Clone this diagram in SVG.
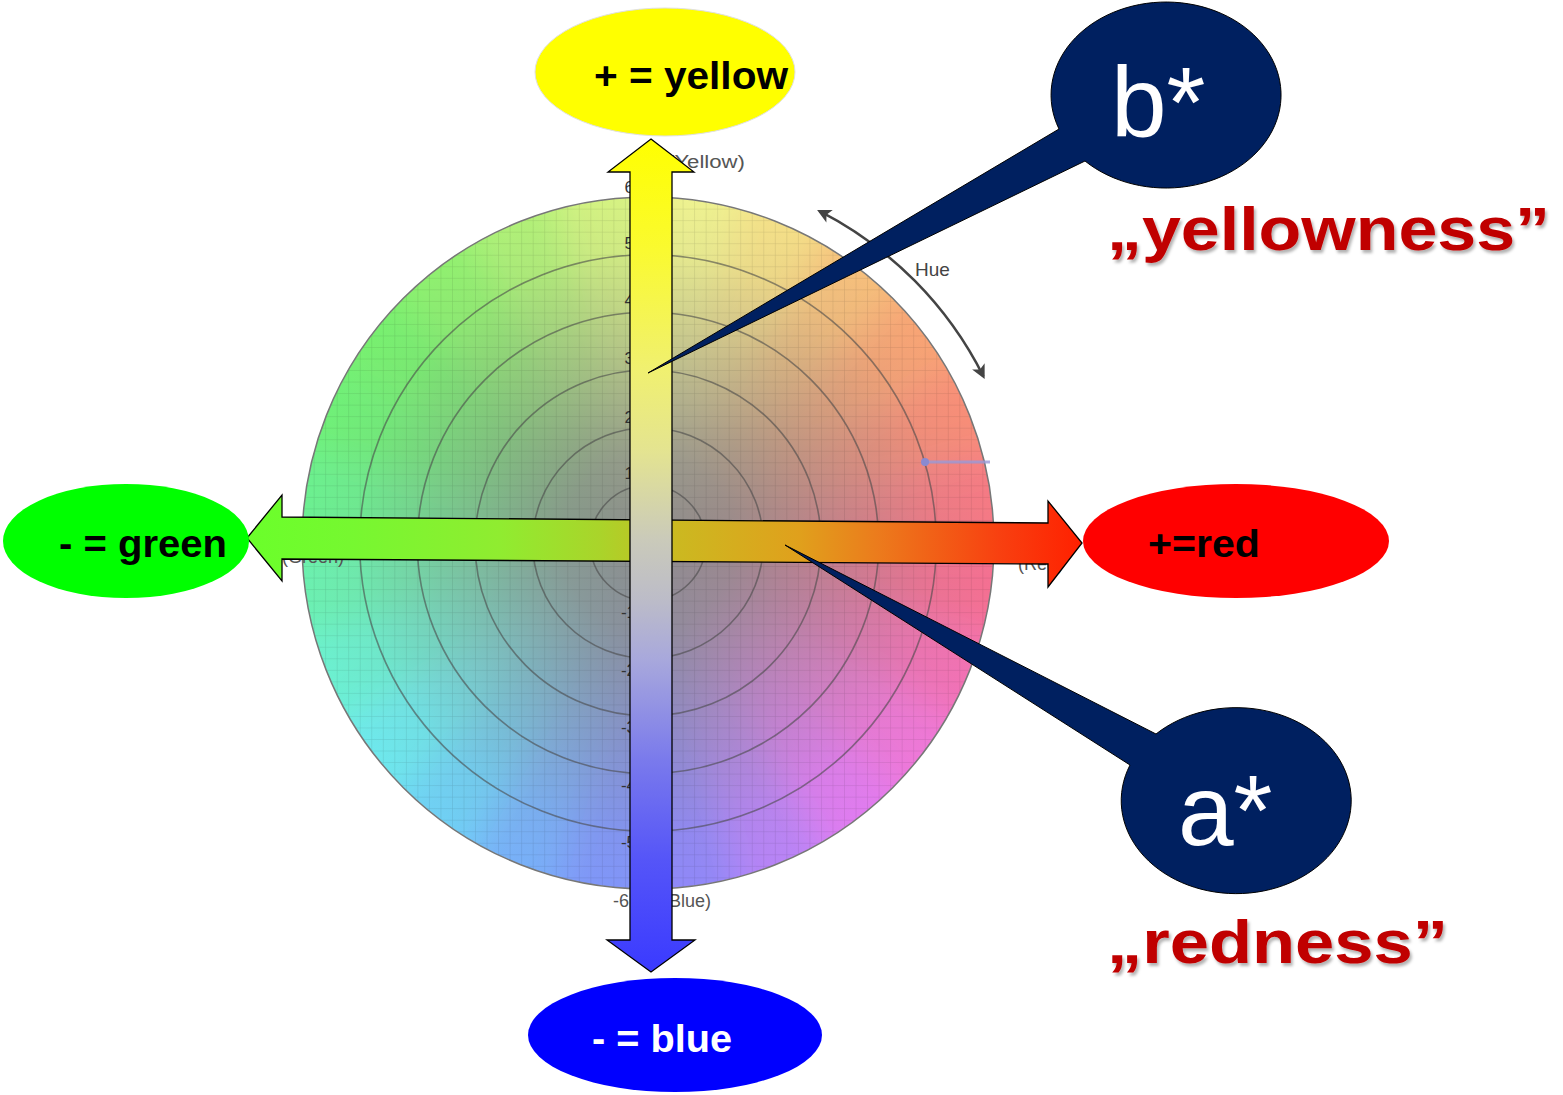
<svg xmlns="http://www.w3.org/2000/svg" width="1563" height="1095" viewBox="0 0 1563 1095">
<style>
.lbl{font-family:"Liberation Sans",Arial,sans-serif;font-weight:bold;font-size:38px}
.tick{font-family:"Liberation Sans",Arial,sans-serif;font-size:17px;fill:#333;text-anchor:end}
.axl{font-family:"Liberation Sans",Arial,sans-serif;font-size:18px;fill:#555}
.big{font-family:"Liberation Sans",Arial,sans-serif;font-size:100px;fill:#fff}
.word{font-family:"Liberation Sans",Arial,sans-serif;font-weight:bold;font-size:62px;fill:#c00000}
.callout{fill:#002060;stroke:#000;stroke-width:1}
.ring{fill:none;stroke:#4a4a4a;stroke-opacity:0.6;stroke-width:1.6}
</style>
<defs>
<clipPath id="wheelClip"><circle cx="648" cy="543" r="346"/></clipPath>
<filter id="soft" x="-20%" y="-20%" width="140%" height="140%"><feGaussianBlur stdDeviation="20"/></filter>
<filter id="shadow" x="-5%" y="-20%" width="110%" height="150%"><feDropShadow dx="2" dy="3" stdDeviation="1.5" flood-color="#000" flood-opacity="0.3"/></filter>
<radialGradient id="gray" cx="648" cy="543" r="346" gradientUnits="userSpaceOnUse">
<stop offset="0" stop-color="#8c8c8c" stop-opacity="1"/>
<stop offset="0.25" stop-color="#8c8c8c" stop-opacity="0.85"/>
<stop offset="0.55" stop-color="#8c8c8c" stop-opacity="0.45"/>
<stop offset="0.85" stop-color="#8c8c8c" stop-opacity="0.08"/>
<stop offset="1" stop-color="#8c8c8c" stop-opacity="0"/>
</radialGradient>
<pattern id="grid" x="648" y="543" width="11.53" height="11.53" patternUnits="userSpaceOnUse">
<path d="M0 0H11.53M0 0V11.53" stroke="#000" stroke-opacity="0.14" stroke-width="1" fill="none"/>
</pattern>
<linearGradient id="hgrad" x1="247" y1="0" x2="1082" y2="0" gradientUnits="userSpaceOnUse">
<stop offset="0" stop-color="#6aff2a"/>
<stop offset="0.123" stop-color="#76f830"/>
<stop offset="0.303" stop-color="#90ec30"/>
<stop offset="0.423" stop-color="#aad42a"/>
<stop offset="0.518" stop-color="#ccb820"/>
<stop offset="0.662" stop-color="#e0a01c"/>
<stop offset="0.758" stop-color="#ec7a1c"/>
<stop offset="0.901" stop-color="#f84010"/>
<stop offset="1" stop-color="#ff2000"/>
</linearGradient>
<linearGradient id="vgrad" x1="0" y1="139" x2="0" y2="972" gradientUnits="userSpaceOnUse">
<stop offset="0" stop-color="#ffff00"/>
<stop offset="0.133" stop-color="#fafa30"/>
<stop offset="0.277" stop-color="#f0f070"/>
<stop offset="0.373" stop-color="#e4e490"/>
<stop offset="0.481" stop-color="#cacaba"/>
<stop offset="0.553" stop-color="#bcbcc8"/>
<stop offset="0.625" stop-color="#a8a8dc"/>
<stop offset="0.745" stop-color="#7a7aec"/>
<stop offset="0.865" stop-color="#5555f8"/>
<stop offset="1" stop-color="#3a3aff"/>
</linearGradient>
<marker id="hueHead" viewBox="0 0 10 10" refX="8" refY="5" markerWidth="16" markerHeight="14" orient="auto-start-reverse" markerUnits="userSpaceOnUse"><path d="M0 0L10 5L0 10L2.5 5z" fill="#444"/></marker>
</defs>

<g id="color-wheel">
<g clip-path="url(#wheelClip)">
<g filter="url(#soft)">
<path d="M648 543L648 123L756.7 137.3Z" fill="#eef290"/>
<path d="M648 543L756.7 137.3L858 179.3Z" fill="#f4e088"/>
<path d="M648 543L858 179.3L945 246Z" fill="#f6c07c"/>
<path d="M648 543L945 246L1011.7 333Z" fill="#f8a474"/>
<path d="M648 543L1011.7 333L1053.7 434.3Z" fill="#f88e78"/>
<path d="M648 543L1053.7 434.3L1068 543Z" fill="#f57a84"/>
<path d="M648 543L1068 543L1053.7 651.7Z" fill="#f47092"/>
<path d="M648 543L1053.7 651.7L1011.7 753Z" fill="#f272b4"/>
<path d="M648 543L1011.7 753L945 840Z" fill="#ee78d8"/>
<path d="M648 543L945 840L858 906.7Z" fill="#e07cf0"/>
<path d="M648 543L858 906.7L756.7 948.7Z" fill="#b884f6"/>
<path d="M648 543L756.7 948.7L648 963Z" fill="#9088f8"/>
<path d="M648 543L648 963L539.3 948.7Z" fill="#8096f8"/>
<path d="M648 543L539.3 948.7L438 906.7Z" fill="#78b0f8"/>
<path d="M648 543L438 906.7L351 840Z" fill="#70d0f4"/>
<path d="M648 543L351 840L284.3 753Z" fill="#6ee8ec"/>
<path d="M648 543L284.3 753L242.3 651.7Z" fill="#6cf0d0"/>
<path d="M648 543L242.3 651.7L228 543Z" fill="#6cf0b0"/>
<path d="M648 543L228 543L242.3 434.3Z" fill="#6cf090"/>
<path d="M648 543L242.3 434.3L284.3 333Z" fill="#70f078"/>
<path d="M648 543L284.3 333L351 246Z" fill="#78f070"/>
<path d="M648 543L351 246L438 179.3Z" fill="#90f070"/>
<path d="M648 543L438 179.3L539.3 137.3Z" fill="#b0f078"/>
<path d="M648 543L539.3 137.3L648 123Z" fill="#d4f282"/>
</g>
<circle cx="648" cy="543" r="346" fill="url(#gray)"/>
<rect x="300" y="195" width="700" height="700" fill="url(#grid)"/>
</g>
<circle class="ring" cx="648" cy="543" r="57.7"/>
<circle class="ring" cx="648" cy="543" r="115.3"/>
<circle class="ring" cx="648" cy="543" r="173"/>
<circle class="ring" cx="648" cy="543" r="230.7"/>
<circle class="ring" cx="648" cy="543" r="288.3"/>
<circle cx="648" cy="543" r="346" fill="none" stroke="#777" stroke-width="1.5"/>
<line x1="925" y1="462" x2="990" y2="462" stroke="#9a9ad8" stroke-width="3" stroke-opacity="0.8"/>
<circle cx="925" cy="462" r="4" fill="#8a8ad0"/>
<text class="tick" x="634" y="193">6</text>
<text class="tick" x="634" y="249">5</text>
<text class="tick" x="634" y="306">4</text>
<text class="tick" x="634" y="364">3</text>
<text class="tick" x="634" y="423">2</text>
<text class="tick" x="634" y="479">1</text>
<text class="tick" x="636" y="618">-1</text>
<text class="tick" x="636" y="676">-2</text>
<text class="tick" x="636" y="733">-3</text>
<text class="tick" x="636" y="791">-4</text>
<text class="tick" x="636" y="848">-5</text>
<text class="axl" x="613" y="907">-6</text>
<text class="axl" x="663" y="907">(Blue)</text>
<text class="axl" x="667" y="168" textLength="78" lengthAdjust="spacingAndGlyphs">(Yellow)</text>
<text class="axl" x="282" y="563">(Green)</text>
<text class="axl" x="1018" y="570">(Red)</text>
<path d="M819.6 211.2A374 374 0 0 1 983.4 376.4" fill="none" stroke="#444" stroke-width="2.5" marker-start="url(#hueHead)" marker-end="url(#hueHead)"/>
<text x="915" y="276" font-family="Liberation Sans, Arial, sans-serif" font-size="19" fill="#444">Hue</text>
</g>

<g id="connectors">
<polygon id="a-axis" points="247,538 282,495 282,517 1048,523 1048,501 1082,543 1048,587 1048,564 282,559 282,581" fill="url(#hgrad)" stroke="#000" stroke-width="1.3" stroke-linejoin="miter"/>
<polygon id="b-axis" points="651,139 694,172 672,172 672,940 695,940 651,972 607,940 630,940 630,172 608,172" fill="url(#vgrad)" stroke="#000" stroke-width="1.3" stroke-linejoin="miter"/>
</g>

<g id="node-yellow">
<ellipse cx="665" cy="72" rx="130" ry="64" fill="#ffff00" stroke="#e0e0e0" stroke-width="1"/>
<text class="lbl" x="594" y="89" fill="#000" textLength="194" lengthAdjust="spacingAndGlyphs">+ = yellow</text>
</g>
<g id="node-green">
<ellipse cx="126" cy="541" rx="123" ry="57" fill="#00ff00"/>
<text class="lbl" x="59" y="557" fill="#000" textLength="168" lengthAdjust="spacingAndGlyphs">- = green</text>
</g>
<g id="node-red">
<ellipse cx="1236" cy="541" rx="153" ry="57" fill="#ff0000"/>
<text class="lbl" x="1148" y="557" fill="#000" textLength="112" lengthAdjust="spacingAndGlyphs">+=red</text>
</g>
<g id="node-blue">
<ellipse cx="675" cy="1035" rx="147" ry="57" fill="#0000ff"/>
<text class="lbl" x="592" y="1052" fill="#fff" textLength="140" lengthAdjust="spacingAndGlyphs">- = blue</text>
</g>

<g id="callout-b">
<path class="callout" d="M648 373L1059 129A115 93 0 1 1 1085 161Z"/>
<text class="big" x="1111" y="137">b*</text>
<text class="word" x="1107" y="250" filter="url(#shadow)" textLength="443" lengthAdjust="spacingAndGlyphs">„yellowness”</text>
</g>
<g id="callout-a">
<path class="callout" d="M785 545L1156 734A115 93 0 1 1 1130 765Z"/>
<text class="big" x="1178" y="845">a*</text>
<text class="word" x="1107" y="963" filter="url(#shadow)" textLength="341" lengthAdjust="spacingAndGlyphs">„redness”</text>
</g>
</svg>
